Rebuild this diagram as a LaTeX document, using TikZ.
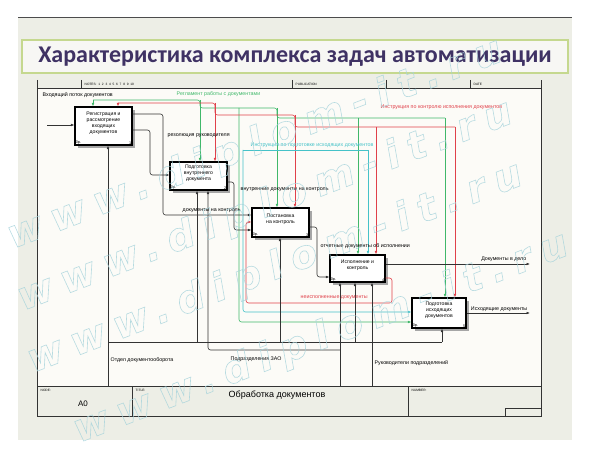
\documentclass[tikz,border=0pt]{standalone}
\usepackage{fontspec}
\setmainfont{Liberation Sans}
\newfontfamily\titlefont{Carlito}
\newfontfamily\wmfont{DejaVu Sans}[LetterSpace=25]
\usetikzlibrary{arrows.meta,shadows}

\definecolor{slidebg}{HTML}{EDEEE6}
\definecolor{sheetbg}{HTML}{FCFBF7}
\definecolor{titlefg}{HTML}{3F3264}
\definecolor{titleedge}{HTML}{C5D88F}
\definecolor{rg}{HTML}{40B86A}
\definecolor{ins}{HTML}{E0404A}
\definecolor{prp}{HTML}{45C2C8}
\definecolor{blk}{HTML}{333333}
\definecolor{wm}{HTML}{A6D3DB}

\newcommand\outlined[1]{\special{pdf:literal direct 1 Tr 0.6 w}#1\special{pdf:literal direct 0 Tr}}

\begin{document}
\begin{tikzpicture}[x=1pt, y=-1pt,
    func/.style = { draw, line width=1.1pt, fill=white, align=center, inner sep=1pt,
                    minimum width=57pt, minimum height=28pt,
                    font=\fontsize{5.1}{5.8}\selectfont,
                    drop shadow={shadow xshift=3pt, shadow yshift=-3pt, fill=black!35, opacity=1} },
    tag/.style = { font=\fontsize{3.8}{4}\selectfont, inner sep=1.2pt },
    lbl/.style = { font=\fontsize{5.3}{6}\selectfont, inner sep=0.5pt },
    hdr/.style = { font=\fontsize{3.2}{3.5}\selectfont, inner sep=0.5pt },
    flow/.style = { line width=0.6pt, rounded corners=2.5pt },
    arr/.style = { flow, -{Latex[length=3.5pt, width=2.6pt]} },
    wmark/.style = { font=\wmfont\bfseries\itshape\fontsize{39}{39}\selectfont, text=wm, opacity=.8, rotate=21, anchor=west }]
  \useasboundingbox (0,0) rectangle (590,460);

  % slide and title
  \fill[slidebg] (18,17) rectangle (572,440);
  \draw[black!70, line width=0.8pt] (18,17) -- (572,17);
  \draw[titleedge, fill=white!55!slidebg, line width=1.2pt] (22,40) rectangle (568,73);
  \node[text=titlefg, font=\titlefont\bfseries\fontsize{24}{26}\selectfont] (title) at (295,57)
    {Характеристика комплекса задач автоматизации};

  % sheet frame
  \fill[sheetbg] (37,88) rectangle (541,386);
  \draw[blk, line width=0.7pt] (37,80) -- (37,416) -- (541,416) -- (541,80);
  \draw[blk, line width=0.7pt] (37,88) -- (541,88) (37,386) -- (541,386)
    (132,386) -- (132,416) (408,386) -- (408,416) (505,416) |- (541,408);
  \foreach \x in {81,292,386,470} \draw[blk, line width=0.5pt] (\x,80) -- (\x,88);
  \node[hdr, anchor=west] (notes) at (84,84) {NOTES:\ \ 1\ \ 2\ \ 3\ \ 4\ \ 5\ \ 6\ \ 7\ \ 8\ \ 9\ \ 10};
  \node[hdr, anchor=west] (pub) at (295,84) {PUBLICATION};
  \node[hdr, anchor=west] (date) at (473,84) {DATE};
  \node[hdr, anchor=west] (nodehd) at (40,390) {NODE:};
  \node[hdr, anchor=west] (titlehd) at (135,390) {TITLE:};
  \node[hdr, anchor=west] (numhd) at (411,390) {NUMBER:};
  \node[font=\fontsize{8}{8}\selectfont] (a0) at (83,404) {A0};
  \node[font=\fontsize{9}{9}\selectfont] (ttl) at (277,395) {Обработка документов};

  % functions
  \node[func, minimum height=38pt] (reg) at (103.5,126) {Регистрация и\\рассмотрение\\входящих\\документов\\[1pt]};
  \node[func] (prep) at (198.5,176) {Подготовка\\внутреннего\\документа\\[1pt]};
  \node[func, minimum height=29pt] (ctrl) at (280.5,222.5) {Постановка\\на контроль\\[1pt]};
  \node[func, minimum width=55pt, minimum height=27pt] (exec) at (357.5,268.5) {Исполнение и\\контроль\\[1pt]};
  \node[func, minimum width=54pt, minimum height=30pt] (outg) at (439,313) {Подготовка\\исходящих\\документов\\[1pt]};
  \foreach \b/\n in {reg/1, prep/2, ctrl/3, exec/4, outg/5} {
    \node[tag, anchor=south west] (\b-cost) at (\b.south west) {0р.};
    \node[tag, anchor=south east] (\b-no) at (\b.south east) {\n};
  }

  % controls
  \coordinate (g1) at (93,100);  \coordinate (g2) at (200,100);
  \coordinate (g3) at (277,108); \coordinate (g4) at (358,118);
  \coordinate (g5) at (445,118); \coordinate (g6) at (239,108);
  \coordinate (g7) at (239,322);
  \draw[flow, rg] (g1) -- (g2) |- (g3) |- (g5);
  \foreach \c/\b in {g1/reg, g2/prep, g3/ctrl, g4/exec, g5/outg}
    \draw[arr, rg] (\c) -- (\c |- \b.north);
  \draw[arr, rg] (g6) -- (g7) -- (g7 -| outg.west);

  \coordinate (r1) at (118,103); \coordinate (r2) at (215,103);
  \coordinate (r3) at (295,115); \coordinate (r4) at (376,127);
  \coordinate (r5) at (455,127);
  \draw[flow, ins] (r1) -- (r2) |- (r3) |- (r5);
  \foreach \c/\b in {r1/reg, r2/prep, r3/ctrl, r4/exec, r5/outg}
    \draw[arr, ins] (\c) -- (\c |- \b.north);

  \coordinate (c1) at (243,150); \coordinate (c2) at (368,150);
  \coordinate (c3) at (243,312);
  \draw[flow, prp] (c1) -- (c2);
  \draw[arr, prp] (c2) -- (c2 |- exec.north);
  \draw[arr, prp] (c1) -- (c3) -- (c3 -| outg.west);

  % inputs and outputs
  \coordinate (inflow) at (47,125);
  \draw[arr, blk] (inflow) -- (inflow -| reg.west);
  \coordinate (d1) at (163,114); \coordinate (d2) at (163,215);
  \draw[arr, blk] (reg.east |- d1) -- (d1) -- (d2) -- (d2 -| ctrl.west);
  \coordinate (e1) at (150,130); \coordinate (e2) at (150,175);
  \draw[arr, blk] (reg.east |- e1) -- (e1) -- (e2) -- (e2 -| prep.west);
  \coordinate (f1) at (234,182); \coordinate (f2) at (234,230);
  \draw[arr, blk] (prep.east |- f1) -- (f1) -- (f2) -- (f2 -| ctrl.west);
  \coordinate (k1) at (317,227); \coordinate (k2) at (317,277);
  \draw[arr, blk] (ctrl.east |- k1) -- (k1) -- (k2) -- (k2 -| exec.west);
  \coordinate (h1) at (392,278); \coordinate (h2) at (392,303);
  \coordinate (h3) at (246,303); \coordinate (h4) at (246,222);
  \draw[arr, ins] (exec.east |- h1) -- (h1) -- (h2) -- (h3) -- (h4) -- (h4 -| ctrl.west);
  \coordinate (m1) at (530,264); \coordinate (m2) at (530,313);
  \draw[arr, blk] (exec.east |- m1) -- (m1);
  \draw[arr, blk] (outg.east |- m2) -- (m2);

  % mechanisms
  \coordinate (n0) at (108,386); \coordinate (n1) at (108,342);
  \draw[arr, blk] (n0) -- (n0 |- reg.south);
  \draw[flow, blk] (n1) -- (442,342);
  \foreach \x/\b in {197/prep, 280/ctrl, 355/exec, 442/outg} {
    \coordinate (n-\b) at (\x,342);
    \draw[arr, blk] (n-\b) -- (n-\b |- \b.south);
  }
  \coordinate (p0) at (340,386); \coordinate (p1) at (340,350); \coordinate (p2) at (208,350);
  \draw[arr, blk] (p0) -- (p0 |- exec.south);
  \draw[arr, blk] (p1) -- (p2) -- (p2 |- prep.south);
  \coordinate (q0) at (372,386);
  \draw[arr, blk] (q0) -- (q0 |- exec.south);

  % arrow labels
  \node[lbl, anchor=west] (l-in) at (42,95) {Входящий поток документов};
  \node[lbl, anchor=west, text=rg] (l-reg) at (176,94) {Регламент работы с документами};
  \node[lbl, anchor=west, text=ins] (l-ins) at (380,107) {Инструкция по контролю исполнения документов};
  \node[lbl, anchor=west] (l-res) at (167,136) {резолюция руководителя};
  \node[lbl, anchor=west, text=prp] (l-prp) at (250,145) {Инструкция по подготовке исходящих документов};
  \node[lbl, anchor=west] (l-int) at (240,190) {внутренние документы на контроль};
  \node[lbl, anchor=west] (l-ctl) at (182,211) {документы на контроль};
  \node[lbl, anchor=west] (l-rep) at (320,246) {отчетные документы об исполнении};
  \node[lbl, anchor=east] (l-arc) at (527,259) {Документы в дело};
  \node[lbl, anchor=west, text=ins] (l-fail) at (300,298) {неисполненные документы};
  \node[lbl, anchor=east] (l-out) at (528,309) {Исходящие документы};
  \node[lbl, anchor=west] (l-dep) at (110,360) {Отдел документооборота};
  \node[lbl, anchor=west] (l-zao) at (230,359) {Подразделения ЗАО};
  \node[lbl, anchor=west] (l-head) at (374,363) {Руководители подразделений};

  % watermark
  \foreach \x/\y [count=\i] in {6/240, 16/302, 26/364, 72/434}
    \node[wmark] (wm\i) at (\x,\y) {\outlined{www.diplom-it.ru}};
\end{tikzpicture}
\end{document}
